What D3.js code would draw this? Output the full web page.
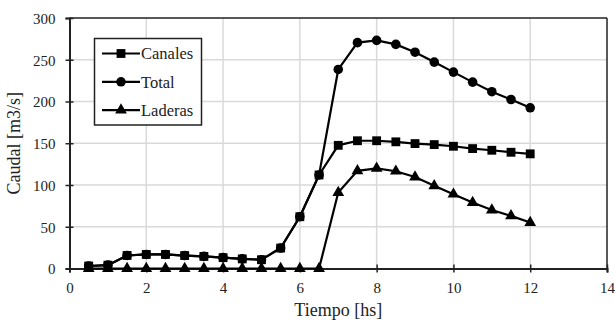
<!DOCTYPE html>
<html><head><meta charset="utf-8">
<script src="https://cdn.jsdelivr.net/npm/d3@7"></script>
<style>body{margin:0;background:#fff}svg{display:block}svg text{font-family:"Liberation Serif","DejaVu Serif",serif !important;fill:#222}</style>
</head><body><svg id="c" width="615" height="322"></svg>
<script>
const tiempo = [0.5,1,1.5,2,2.5,3,3.5,4,4.5,5,5.5,6,6.5,7,7.5,8,8.5,9,9.5,10,10.5,11,11.5,12];
const canales = [3,4,15.6,16.8,16.8,15.5,14.5,13,11.5,10.5,24.5,62,112,147.5,153,153,151.7,149.6,148.4,146.4,143.6,141.6,139.2,137.3];
const total = [3,4,15.6,16.8,16.8,15.5,14.5,13,11.5,10.5,24.5,62,112,238.4,270.5,273.2,268.4,259,247.2,235.2,223.2,211.7,202.4,192.5];
const laderas = [0,0,0,0,0,0,0,0,0,0,0,0,0,91,117,120,116.5,109.5,99,89,79,70,63,55];
const xTicks = [0,2,4,6,8,10,12,14];
const yTicks = [0,50,100,150,200,250,300];
const seriesNames = ["Canales","Total","Laderas"];

const svg = d3.select("#c");
const L=69.5, R=607, T=18, B=268.5;
const x = d3.scaleLinear().domain([0,14]).range([L,R]);
const y = d3.scaleLinear().domain([0,300]).range([B,T]);
const serif = '"Liberation Serif", serif';

svg.append("g").selectAll("line").data(xTicks.slice(1,-1)).join("line")
  .attr("x1",d=>x(d)).attr("x2",d=>x(d)).attr("y1",T).attr("y2",B)
  .attr("stroke","#d9d9d9").attr("stroke-width",1.5);
svg.append("g").selectAll("line").data(yTicks.slice(1,-1)).join("line")
  .attr("x1",L).attr("x2",R).attr("y1",d=>y(d)).attr("y2",d=>y(d))
  .attr("stroke","#d9d9d9").attr("stroke-width",1.5);

svg.append("line").attr("x1",L).attr("x2",R).attr("y1",T).attr("y2",T).attr("stroke","#222").attr("stroke-width",1.5);
svg.append("line").attr("x1",R).attr("x2",R).attr("y1",T).attr("y2",B).attr("stroke","#222").attr("stroke-width",1.5);

const xAxis = svg.append("g").attr("transform",`translate(0,${B})`)
  .call(d3.axisBottom(x).tickValues(xTicks).tickSize(4).tickPadding(10));
xAxis.selectAll(".tick line").attr("y1",-4).attr("y2",4);
const yAxis = svg.append("g").attr("transform",`translate(${L},0)`)
  .call(d3.axisLeft(y).tickValues(yTicks).tickSize(4).tickPadding(11));
yAxis.selectAll(".tick line").attr("x1",4).attr("x2",-4);
[xAxis,yAxis].forEach(a=>{
  a.attr("font-family",serif);
  a.select(".domain").attr("stroke","#222").attr("stroke-width",2);
  a.selectAll(".tick line").attr("stroke","#222").attr("stroke-width",1.5);
  a.selectAll(".tick text").attr("font-size",15).style("font-family",serif).attr("fill","#333");
});
yAxis.selectAll(".tick text").attr("x",-14).attr("dy","0.35em");

svg.append("text").attr("x",(L+R)/2).attr("y",316).attr("text-anchor","middle")
  .attr("font-size",18).style("font-family",serif).text("Tiempo [hs]");
svg.append("text").attr("transform",`translate(20,${(T+B)/2}) rotate(-90)`).attr("text-anchor","middle")
  .attr("font-size",18).style("font-family",serif).text("Caudal [m3/s]");

const line = d3.line().x(d=>x(d[0])).y(d=>y(d[1]));
const sym = {Canales:d3.symbolSquare, Total:d3.symbolCircle, Laderas:d3.symbolTriangle};
const symSize = {Canales:78, Total:72, Laderas:60};
const data = {Canales:canales, Total:total, Laderas:laderas};
["Total","Laderas","Canales"].forEach(n=>{
  const pts = tiempo.map((t,i)=>[t,data[n][i]]);
  const g = svg.append("g");
  g.append("path").attr("d",line(pts)).attr("fill","none").attr("stroke","#000").attr("stroke-width",2.2);
  g.selectAll("path.m").data(pts).join("path").attr("class","m")
    .attr("transform",d=>`translate(${x(d[0])},${y(d[1])})`)
    .attr("d",d3.symbol().type(sym[n]).size(symSize[n])).attr("fill","#000");
});

const lg = svg.append("g");
lg.append("rect").attr("x",94.5).attr("y",38.5).attr("width",107).attr("height",86.5)
  .attr("fill","#fff").attr("stroke","#222").attr("stroke-width",1.5);
seriesNames.forEach((n,i)=>{
  const yy = 53.5 + i*28.3;
  lg.append("line").attr("x1",102).attr("x2",140).attr("y1",yy).attr("y2",yy).attr("stroke","#000").attr("stroke-width",2.2);
  lg.append("path").attr("transform",`translate(121,${yy})`).attr("d",d3.symbol().type(sym[n]).size(symSize[n])).attr("fill","#000");
  lg.append("text").attr("x",141).attr("y",yy).attr("dy","0.35em").attr("font-size",16.5).style("font-family",serif).text(n);
});
</script></body></html>
